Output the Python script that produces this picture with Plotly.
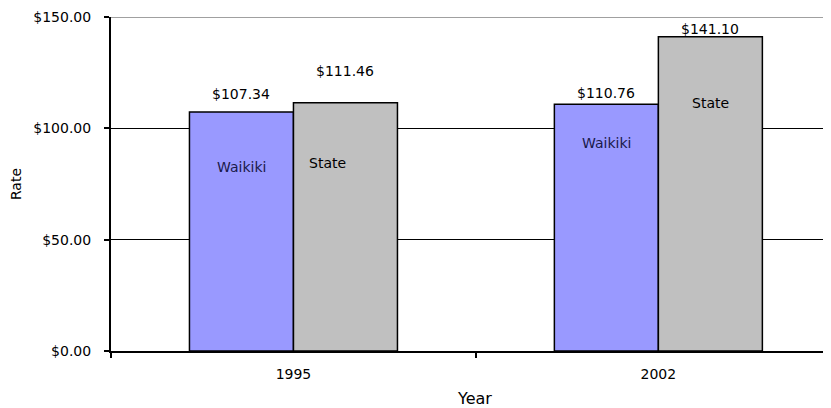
import plotly.graph_objects as go

years = ["1995", "2002"]
waikiki = [107.34, 110.76]
state = [111.46, 141.10]
series_names = ["Waikiki", "State"]
y_ticks = [0, 50, 100, 150]
y_tick_labels = ["$0.00", "$50.00", "$100.00", "$150.00"]

# label offsets (pixels) as observed in reference
value_label_shift = {"Waikiki": [18, 11], "State": [32, 8]}
name_label_shift = {"Waikiki": [-55, -39], "State": [-60, -66]}
name_label_xadj = {"Waikiki": [0, 0], "State": [-18, 0]}

FONT = "DejaVu Sans, Liberation Sans, Arial, sans-serif"
# page body has an 8px margin, so the figure is placed at (8, 8) in the window
W, H = 831, 408
ML, MR, MT, MB = 103, 0, 9, 65
BARGAP = 0.43
XRANGE = [-0.5, 1.495]

fig = go.Figure()
fig.add_trace(go.Bar(x=years, y=waikiki, name="Waikiki",
                     marker=dict(color="#9999FF", line=dict(color="#000000", width=1.5))))
fig.add_trace(go.Bar(x=years, y=state, name="State",
                     marker=dict(color="#C0C0C0", line=dict(color="#000000", width=1.5))))

plot_w = W - ML - MR
cat_px = plot_w / (XRANGE[1] - XRANGE[0])
bar_px = cat_px * (1 - BARGAP) / 2

for name, vals, sign in [("Waikiki", waikiki, -1), ("State", state, 1)]:
    for i, v in enumerate(vals):
        fig.add_annotation(x=i, y=v, xref="x", yref="y", text=f"${v:.2f}",
                           showarrow=False, xshift=sign * bar_px / 2,
                           yshift=value_label_shift[name][i],
                           font=dict(family=FONT, size=14, color="#000000"))
        fig.add_annotation(x=i, y=v, xref="x", yref="y", text=name,
                           showarrow=False, xshift=sign * bar_px / 2 + name_label_xadj[name][i],
                           yshift=name_label_shift[name][i],
                           font=dict(family=FONT, size=14,
                                     color="#1a1a4a" if name == "Waikiki" else "#000000"))

fig.add_shape(type="line", xref="paper", yref="y", x0=0, x1=1, y0=150, y1=150,
              line=dict(color="#A0A0A0", width=2), layer="above")

fig.update_layout(
    width=W, height=H,
    margin=dict(l=ML, r=MR, t=MT, b=MB, pad=0, autoexpand=False),
    paper_bgcolor="white", plot_bgcolor="white",
    barmode="group", bargap=BARGAP, bargroupgap=0,
    showlegend=False,
    font=dict(family=FONT, size=14, color="#000000"),
    xaxis=dict(type="category", range=XRANGE, showline=True, linecolor="#000000", linewidth=1.5,
               ticks="outside", ticklen=5, tickcolor="#000000", tickwidth=1.5,
               tickson="boundaries", showgrid=False, ticklabelstandoff=9, automargin=False,
               tickfont=dict(family=FONT, size=14),
               title=dict(text="Year", standoff=12, font=dict(family=FONT, size=16))),
    yaxis=dict(range=[0, 150], tickvals=y_ticks, ticktext=y_tick_labels,
               showline=True, linecolor="#000000", linewidth=2,
               ticks="outside", ticklen=5, tickcolor="#000000", tickwidth=1.5,
               showgrid=True, gridcolor="#000000", gridwidth=1, zeroline=False,
               ticklabelstandoff=10, automargin=False,
               tickfont=dict(family=FONT, size=14),
               title=dict(text="Rate", standoff=12, font=dict(family=FONT, size=14))),
)

fig.write_html("out.html")
